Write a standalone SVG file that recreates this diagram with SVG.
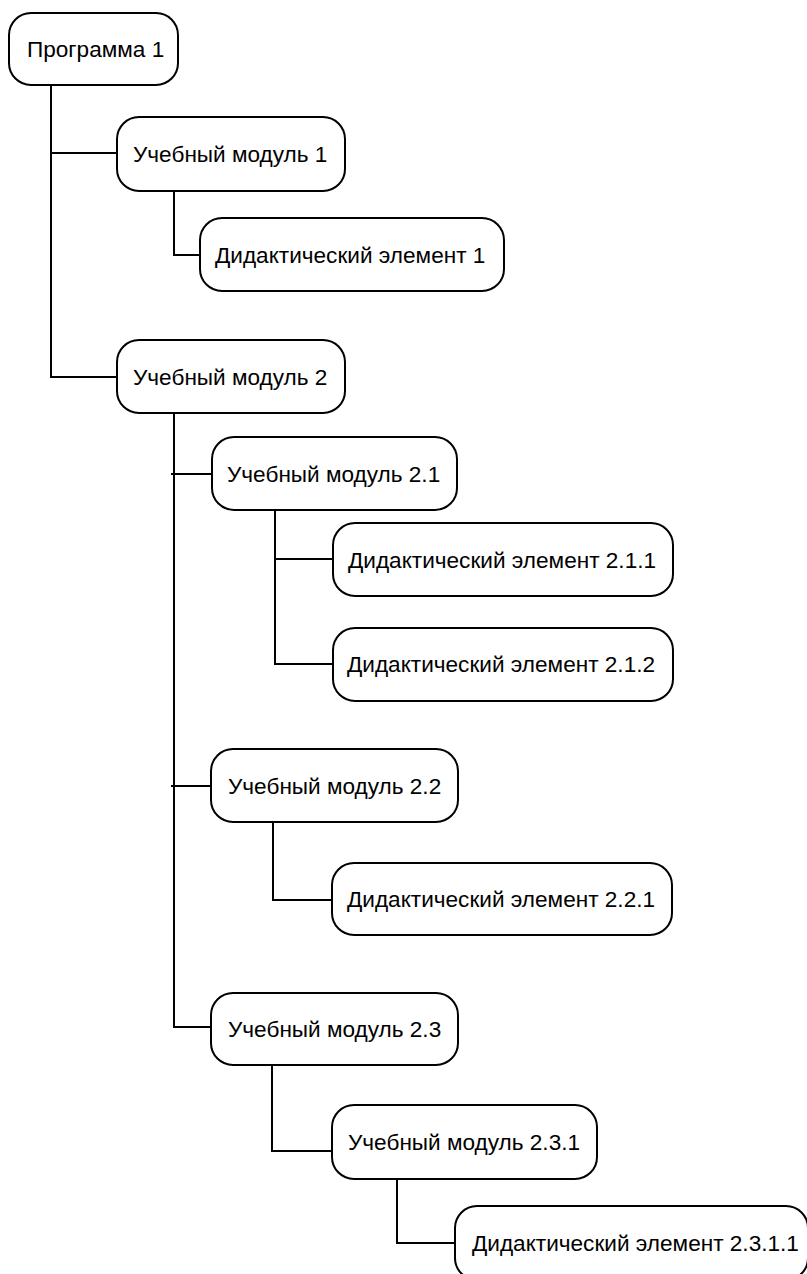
<svg xmlns="http://www.w3.org/2000/svg" width="807" height="1274" viewBox="0 0 807 1274">
  <style>
    .box { fill: #ffffff; stroke: #000000; stroke-width: 2; }
    .lbl { font-family: "Liberation Sans", Arial, sans-serif; font-size: 22.6px; fill: #000000; }
    .wire { fill: none; stroke: #000000; stroke-width: 2; }
  </style>
  <rect x="0" y="0" width="807" height="1274" fill="#ffffff"/>

  <!-- tree connectors -->
  <g id="connectors">
    <path class="wire" d="M51 85 V377 H117"/>
    <path class="wire" d="M51 153 H117"/>
    <path class="wire" d="M174 191 V255 H200"/>
    <path class="wire" d="M174 413 V1027 H211"/>
    <path class="wire" d="M171 474 H212"/>
    <path class="wire" d="M171 786 H211"/>
    <path class="wire" d="M275 510 V664 H333"/>
    <path class="wire" d="M275 559 H333"/>
    <path class="wire" d="M273 822 V900 H332"/>
    <path class="wire" d="M272 1065 V1151 H332"/>
    <path class="wire" d="M397 1179 V1243 H455"/>
  </g>

  <g id="program-1">
    <rect class="box" x="9" y="13" width="169" height="72" rx="22"/>
    <text class="lbl" x="27" y="57">Программа 1</text>
  </g>
  <g id="module-1">
    <rect class="box" x="117" y="117" width="228" height="74" rx="22"/>
    <text class="lbl" x="133" y="162">Учебный модуль 1</text>
  </g>
  <g id="element-1">
    <rect class="box" x="200" y="218" width="304" height="73" rx="22"/>
    <text class="lbl" x="215" y="263">Дидактический элемент 1</text>
  </g>
  <g id="module-2">
    <rect class="box" x="117" y="340" width="228" height="73" rx="22"/>
    <text class="lbl" x="133" y="385">Учебный модуль 2</text>
  </g>
  <g id="module-2-1">
    <rect class="box" x="212" y="437" width="245" height="73" rx="22"/>
    <text class="lbl" x="227" y="482">Учебный модуль 2.1</text>
  </g>
  <g id="element-2-1-1">
    <rect class="box" x="333" y="523" width="340" height="73" rx="22"/>
    <text class="lbl" x="348" y="568">Дидактический элемент 2.1.1</text>
  </g>
  <g id="element-2-1-2">
    <rect class="box" x="333" y="628" width="340" height="73" rx="22"/>
    <text class="lbl" x="347" y="672">Дидактический элемент 2.1.2</text>
  </g>
  <g id="module-2-2">
    <rect class="box" x="211" y="749" width="247" height="73" rx="22"/>
    <text class="lbl" x="228" y="794">Учебный модуль 2.2</text>
  </g>
  <g id="element-2-2-1">
    <rect class="box" x="332" y="863" width="340" height="72" rx="22"/>
    <text class="lbl" x="347" y="907">Дидактический элемент 2.2.1</text>
  </g>
  <g id="module-2-3">
    <rect class="box" x="211" y="993" width="247" height="72" rx="22"/>
    <text class="lbl" x="228" y="1037">Учебный модуль 2.3</text>
  </g>
  <g id="module-2-3-1">
    <rect class="box" x="332" y="1105" width="265" height="74" rx="22"/>
    <text class="lbl" x="348" y="1150">Учебный модуль 2.3.1</text>
  </g>
  <g id="element-2-3-1-1">
    <rect class="box" x="455" y="1206" width="353" height="74" rx="22"/>
    <text class="lbl" x="472" y="1251">Дидактический элемент 2.3.1.1</text>
  </g>
</svg>
